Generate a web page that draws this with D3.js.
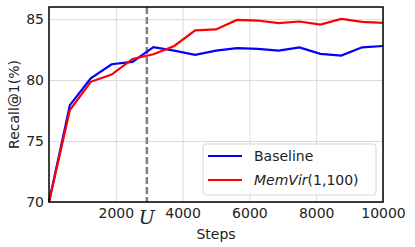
<!DOCTYPE html>
<html>
<head>
<meta charset="utf-8">
<script src="https://cdn.jsdelivr.net/npm/d3@7"></script>
<style>
  body { margin: 0; background: #fff; }
  svg { display: block; font-family: "DejaVu Sans", sans-serif; }
</style>
</head>
<body>
<div id="chart"></div>
<script>
const steps = [0, 625, 1250, 1875, 2500, 3125, 3750, 4375, 5000, 5625, 6250, 6875, 7500, 8125, 8750, 9375, 10000];
const baseline = [70, 77.95, 80.15, 81.3, 81.5, 82.7, 82.42, 82.07, 82.42, 82.63, 82.57, 82.42, 82.69, 82.15, 82.01, 82.69, 82.8];
const memvir = [70, 77.55, 79.86, 80.46, 81.74, 82.12, 82.8, 84.08, 84.16, 84.94, 84.89, 84.67, 84.81, 84.56, 85.03, 84.78, 84.7];
const xTicks = [2000, 4000, 6000, 8000, 10000];
const yTicks = [70, 75, 80, 85];
const uStep = 2930;

let width = 415;
let height = 247;
let margin = { top: 7, right: 32, bottom: 45, left: 49 };

const svg = d3.select("#chart").append("svg")
  .attr("width", width)
  .attr("height", height);

let x = d3.scaleLinear()
  .domain([0, 10000])
  .range([margin.left, width - margin.right]);

let y = d3.scaleLinear()
  .domain([70, 86])
  .range([height - margin.bottom, margin.top]);

// grid
svg.append("g")
  .attr("transform", `translate(0,${height - margin.bottom})`)
  .call(d3.axisBottom(x).tickValues(xTicks).tickSize(-(height - margin.top - margin.bottom)).tickFormat(""))
  .call(g => g.select(".domain").remove())
  .selectAll("line").attr("stroke", "#d9d9d9").attr("stroke-width", 1);

svg.append("g")
  .attr("transform", `translate(${margin.left},0)`)
  .call(d3.axisLeft(y).tickValues(yTicks).tickSize(-(width - margin.left - margin.right)).tickFormat(""))
  .call(g => g.select(".domain").remove())
  .selectAll("line").attr("stroke", "#d9d9d9").attr("stroke-width", 1);

// U marker
svg.append("line")
  .attr("x1", x(uStep)).attr("x2", x(uStep))
  .attr("y1", margin.top).attr("y2", height - margin.bottom)
  .attr("stroke", "#808080")
  .attr("stroke-width", 2.5)
  .attr("stroke-dasharray", "7,3");

const line = d3.line()
  .x((d, i) => x(steps[i]))
  .y(d => y(d));

svg.append("path")
  .datum(baseline)
  .attr("fill", "none")
  .attr("stroke", "#0000ff")
  .attr("stroke-width", 2.2)
  .attr("d", line);

svg.append("path")
  .datum(memvir)
  .attr("fill", "none")
  .attr("stroke", "#ff0000")
  .attr("stroke-width", 2.2)
  .attr("d", line);

// frame
svg.append("rect")
  .attr("x", margin.left)
  .attr("y", margin.top)
  .attr("width", width - margin.left - margin.right)
  .attr("height", height - margin.top - margin.bottom)
  .attr("fill", "none")
  .attr("stroke", "#000")
  .attr("stroke-width", 1.5);

// tick labels
svg.append("g")
  .attr("transform", `translate(0,${height - margin.bottom})`)
  .call(d3.axisBottom(x).tickValues(xTicks).tickSize(0).tickPadding(6).tickFormat(d3.format("d")))
  .call(g => g.select(".domain").remove())
  .selectAll("text")
  .attr("font-size", 14)
  .attr("font-family", "DejaVu Sans")
  .attr("fill", "#222");

svg.append("g")
  .attr("transform", `translate(${margin.left},0)`)
  .call(d3.axisLeft(y).tickValues(yTicks).tickSize(0).tickPadding(5))
  .call(g => g.select(".domain").remove())
  .selectAll("text")
  .attr("font-size", 14)
  .attr("font-family", "DejaVu Sans")
  .attr("fill", "#222");

svg.append("text")
  .attr("x", x(uStep))
  .attr("y", height - margin.bottom + 22)
  .attr("text-anchor", "middle")
  .attr("font-family", "DejaVu Serif")
  .attr("font-style", "italic")
  .attr("font-size", 19)
  .attr("fill", "#222")
  .text("U");

svg.append("text")
  .attr("x", (margin.left + width - margin.right) / 2)
  .attr("y", height - 8)
  .attr("text-anchor", "middle")
  .attr("font-size", 14)
  .attr("fill", "#222")
  .text("Steps");

svg.append("text")
  .attr("transform", `translate(19,${(margin.top + height - margin.bottom) / 2}) rotate(-90)`)
  .attr("text-anchor", "middle")
  .attr("font-size", 14)
  .attr("fill", "#222")
  .text("Recall@1(%)");

// legend
const lg = svg.append("g").attr("transform", "translate(203,144)");
lg.append("rect")
  .attr("width", 173).attr("height", 51)
  .attr("rx", 3)
  .attr("fill", "rgba(255,255,255,0.8)")
  .attr("stroke", "#d5d5d5");

const items = [
  { color: "#0000ff", parts: [["Baseline", "normal"]] },
  { color: "#ff0000", parts: [["MemVir", "italic"], ["(1,100)", "normal"]] }
];
items.forEach((it, i) => {
  const cy = 12 + i * 24;
  lg.append("line")
    .attr("x1", 5).attr("x2", 39)
    .attr("y1", cy).attr("y2", cy)
    .attr("stroke", it.color).attr("stroke-width", 2.2);
  const t = lg.append("text")
    .attr("x", 51).attr("y", cy + 5)
    .attr("font-size", 14)
    .attr("fill", "#222");
  it.parts.forEach(p => t.append("tspan").attr("font-style", p[1]).text(p[0]));
});
</script>
</body>
</html>
